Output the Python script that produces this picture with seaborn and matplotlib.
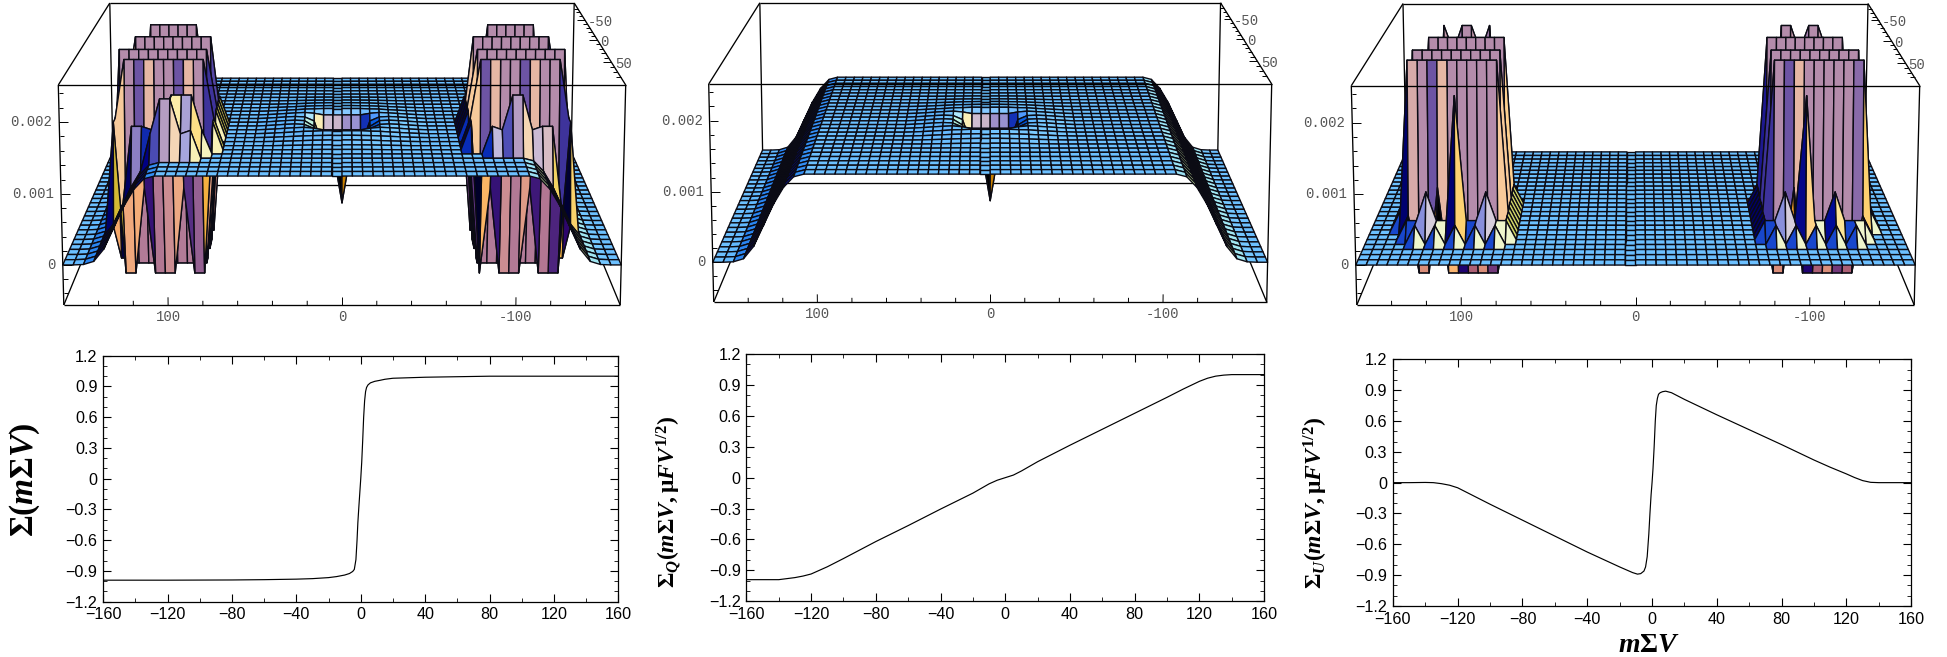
import numpy as np
import matplotlib
matplotlib.use("Agg")
import matplotlib.pyplot as plt
import seaborn as sns
from mpl_toolkits.mplot3d import Axes3D, proj3d  # noqa: F401
from mpl_toolkits.mplot3d.art3d import Line3DCollection

# ---------- curves read from the lower row ----------
sigma_x = [-160, -120, -80, -60, -40, -30, -20, -15, -10, -7, -5, -4, -3, -2.3, -1.8, -1.2, -0.6, 0,
           0.6, 1.2, 1.8, 2.4, 3, 3.6, 4.5, 6, 8.7, 12, 15, 20, 30, 40, 60, 80, 120, 160]
sigma_y = [-0.99, -0.99, -0.988, -0.985, -0.98, -0.975, -0.965, -0.955, -0.94, -0.925, -0.905, -0.885, -0.79,
           -0.6, -0.43, -0.28, -0.14, 0, 0.16, 0.37, 0.6, 0.76, 0.85, 0.89, 0.915, 0.935, 0.95, 0.96, 0.97,
           0.98, 0.985, 0.99, 0.995, 1.0, 1.0, 1.0]
q_x = [-160, -140, -135, -130, -125, -120, -110, -100, -80, -60, -40, -20, -10, -5, -2, 0, 2, 5, 10, 20, 40,
       60, 80, 100, 110, 120, 125, 130, 135, 140, 150, 160]
q_y = [-0.99, -0.99, -0.98, -0.97, -0.955, -0.935, -0.865, -0.785, -0.62, -0.465, -0.305, -0.15, -0.06, -0.025,
       -0.01, 0, 0.01, 0.025, 0.065, 0.155, 0.315, 0.47, 0.625, 0.78, 0.86, 0.935, 0.965, 0.985, 0.995, 1.0, 1.0, 1.0]
u_x = [-160, -150, -140, -135, -130, -125, -120, -110, -100, -80, -60, -40, -20, -12, -9, -7, -5, -4, -3, -2,
       -1.3, -0.6, 0, 0.6, 1.3, 2, 2.6, 3.3, 4, 5, 6.5, 8.4, 12, 20, 40, 60, 80, 100, 110, 120, 125, 130, 135, 140, 160]
u_y = [0, 0, 0.002, 0, -0.01, -0.025, -0.05, -0.13, -0.21, -0.365, -0.52, -0.675, -0.82, -0.875, -0.89, -0.885,
       -0.86, -0.82, -0.72, -0.5, -0.3, -0.12, 0, 0.14, 0.35, 0.6, 0.75, 0.82, 0.86, 0.875, 0.885, 0.89, 0.875,
       0.81, 0.66, 0.515, 0.37, 0.22, 0.15, 0.085, 0.05, 0.02, 0.003, 0, 0]

x_ticks = [-160, -120, -80, -40, 0, 40, 80, 120, 160]
x_tick_labels = ["\u2212160", "\u2212120", "\u221280", "\u221240", "0", "40", "80", "120", "160"]
y_ticks = [-1.2, -0.9, -0.6, -0.3, 0, 0.3, 0.6, 0.9, 1.2]
y_tick_labels = ["\u22121.2", "\u22120.9", "\u22120.6", "\u22120.3", "0", "0.3", "0.6", "0.9", "1.2"]

# ---------- surface tables read from the upper row ----------
z_min, z_max = -0.00057, 0.00251
plateau = 0.00125
y_half = 96.0
nx, ny = 55, 27
x_grid = np.linspace(160, -160, nx)
y_grid = np.linspace(-y_half, y_half, ny)
# height fraction of the mesa for columns 0..27 away from the centre
mesa_edge = [1] * 19 + [0.97, 0.85, 0.66, 0.42, 0.18, 0.04, 0.005, 0, 0]
# height fraction around the central pit: rows 0..7 from the centre, columns 0..9
pit = [[0.00, 0.68, 0.72, 0.95, 1.02, 1.025, 1.02, 1.012, 1.005, 1.0],
       [0.45, 0.55, 0.65, 0.97, 1.02, 1.025, 1.02, 1.012, 1.005, 1.0],
       [1.00, 1.00, 1.00, 1.02, 1.03, 1.025, 1.018, 1.01, 1.004, 1.0],
       [1.035, 1.035, 1.035, 1.03, 1.028, 1.02, 1.014, 1.008, 1.003, 1.0],
       [1.028, 1.028, 1.026, 1.024, 1.02, 1.015, 1.01, 1.005, 1.002, 1.0],
       [1.02, 1.02, 1.018, 1.016, 1.012, 1.008, 1.005, 1.002, 1.0, 1.0],
       [1.01, 1.01, 1.009, 1.008, 1.006, 1.004, 1.002, 1.0, 1.0, 1.0],
       [1.004, 1.004, 1.004, 1.003, 1.002, 1.001, 1.0, 1.0, 1.0, 1.0]]
levels = {"H": z_max, "L": z_min, "M": 0.0021, "m": 0.0016, "q": 0.0007, "n": 0.00028, "c": 0.00165}
# rows run j=22..7 (front to back), columns k=12..24 away from the centre
tower_a_left = ["...cmMMm.....", "..mMMMmmcc...", ".cLLqLLLqLLc.", ".cHHHHHHHHHc.", "..LLLLLLLLLc.",
                ".cLLLLLLLLLL.", ".cHHHHHHHHHH.", ".cLLLLLLLLLL.", ".cLLLLLLLLLL.", ".cLLLLLLLLLc.",
                "..HHHHHHHHHc.", "..LLLLLLLLL..", "..cLLLLLLLc..", "...LLLLLLL...", "....HHHHHH...", ".....cccc...."]
tower_a_right = [".............", "...cmMMmcc...", ".cLqLLLqLLLc.", ".cHHHHHHHHHc.", "..LLLLLLLLLc.",
                 ".cLLLLLLLLLL.", ".cHHHHHHHHHH.", ".cLLLLLLLLLL.", ".cLLLLLLLLLL.", ".cLLLLLLLLLc.",
                 "..HHHHHHHHHc.", "..LLLLLLLLL..", "..cLLLLLLLc..", "...LLLLLLL...", "....HHHHHH...", ".....cccc...."]
tower_c_left = ["..n.n.n.n.n..", ".nnqnnMnnqnn.", ".nLLLLLLqLLn.", ".nHHHHHHHHHHn", ".nLLLLLLLLLLn",
                ".nLLLLLLLLLL.", ".nHHHHHHHHHH.", ".nLLLLLLLLLL.", ".nLLLLLLLLLL.", ".nLLLLLLLLLn.",
                "..HHHHHHHHHn.", "..LLLLLLLLL..", "..nLLLLLLLn..", "...LLLLLLL...", "....HMHHMH...", ".....nnnn...."]
tower_c_right = ["..n.n.n.n.n..", ".nnqnMnnqnnn.", ".nLLqLLLLLLn.", ".nHHHHHHHHHHn", ".nLLLLLLLLLLn",
                 ".nLLLLLLLLLL.", ".nHHHHHHHHHH.", ".nLLLLLLLLLL.", ".nLLLLLLLLLL.", ".nLLLLLLLLLn.",
                 "..HHHHHHHHHn.", "..LLLLLLLLL..", "..nLLLLLLLn..", "...LLLLLLL...", "....HHMHHM...", ".....nnnn...."]
z_label_vals = [0, 0.001, 0.002]
z_labels = ["0", "0.001", "0.002"]
front_vals = [100, 0, -100]
front_labels = ["100", "0", "-100"]
side_vals = [-50, 0, 50]
side_labels = ["-50", "0", "50"]

# ---------- layout in pixels ----------
W, H = 1947, 657
cams = [(342.0, 278.2, 283.7, 228.5, 305.0, 85.0, 185.0),
        (990.2, 276.5, 281.5, 227.0, 302.0, 84.0, 183.0),
        (1635.5, 278.7, 284.2, 228.8, 305.0, 85.7, 185.0)]
boxes2d = [(103.1, 618.4, 355.7, 601.7), (746.4, 1264.2, 354.0, 601.3), (1392.9, 1911.2, 359.3, 606.0)]

sns.set_theme(style="ticks")
plt.rcParams["font.family"] = ["Liberation Sans", "DejaVu Sans"]
plt.rcParams.update({"mathtext.fontset": "custom", "mathtext.rm": "Liberation Serif:bold",
                     "mathtext.it": "Liberation Serif:italic:bold", "mathtext.bf": "Liberation Serif:bold"})
fig = plt.figure(figsize=(W / 100, H / 100), dpi=100, facecolor="white")


def build_surface(base_mesa, towers):
    Z = np.zeros((ny, nx))
    for j in range(ny):
        for i in range(nx):
            k = abs(i - 27)
            Z[j, i] = plateau * mesa_edge[k] if base_mesa else 0.0
            r = abs(j - 13)
            if base_mesa and r < len(pit) and k < len(pit[0]):
                Z[j, i] = plateau * pit[r][k]
    if towers is not None:
        for sign, mask in zip((1, -1), towers):
            for row, text in enumerate(mask):
                j = 22 - row
                for col, ch in enumerate(text):
                    if ch != ".":
                        Z[j, 27 - sign * (12 + col)] = levels[ch]
    return Z


def face_colors(Z):
    X, Y = np.meshgrid(x_grid, y_grid)
    P = np.dstack([X * 1.74, Y * 2.0, Z * 82400.0])
    d1 = P[1:, 1:] - P[:-1, :-1]
    d2 = P[1:, :-1] - P[:-1, 1:]
    n = np.cross(d1, d2)
    n /= np.linalg.norm(n, axis=2, keepdims=True) + 1e-12
    right = -n[..., 0]
    up = n[..., 2] * 0.87 - 0.1 * n[..., 1]
    toward = n[..., 2] * 0.5 + n[..., 1]
    v = np.dstack([right, up, toward])
    v /= np.linalg.norm(v, axis=2, keepdims=True) + 1e-12
    v *= np.where(v[..., 2:] < 0, -1.0, 1.0)
    lights = np.array([[1, 0, 1], [1, 1, 1], [0, 1, 1]], float)
    lights /= np.linalg.norm(lights, axis=1, keepdims=True)
    rgb = v @ lights.T
    lift = np.clip(v[..., 1], 0, 1)
    rgb[..., 0] += 0.08 * lift
    rgb[..., 1] -= 0.04 * lift
    rgb[..., 2] += 0.04 * lift
    rgb = np.clip(rgb, 0, 1)
    return np.dstack([rgb, np.ones(rgb.shape[:2])])


def camera(ax, cam):
    cx, bf, tf, back, v0, vt, vb = cam
    g = bf / tf - 1
    e = bf / back - 1
    q = vt * (1 + g) - v0
    p = vb * (1 + e) - v0
    inv = ax.transData.inverted()
    o = inv.transform((0, 0))
    s = inv.transform((W, H)) - o
    sx, sy = s[0] / W, s[1] / H
    T = np.array([[1 / 160, 0, 0, 0],
                  [0, -1 / (2 * y_half), 0, 0.5],
                  [0, 0, 1 / (z_max - z_min), -z_min / (z_max - z_min)],
                  [0, 0, 0, 1]])
    wrow = np.array([0, e, g, 1.0])
    urow = cx * wrow - np.array([bf, 0, 0, 0])
    vrow = H * wrow - np.array([0, p, q, v0])
    L = np.vstack([sx * urow + o[0] * wrow, sy * vrow + o[1] * wrow, np.array([0, e, g, 0.0]), wrow])
    return L @ T


def add_lines(ax, segs, lw, z):
    col = Line3DCollection(segs, colors="black", linewidths=lw, zorder=z)
    ax.add_collection3d(col, autolim=False)


def draw_surface(cam, Z):
    ax = fig.add_axes([0, 0, 1, 1], projection="3d", facecolor="none")
    ax.set_position([0, 0, 1, 1])
    ax.apply_aspect = lambda position=None: None
    ax.set_axis_off()
    ax.computed_zorder = False
    ax.set_xlim(-160, 160); ax.set_ylim(-y_half, y_half); ax.set_zlim(z_min, z_max)
    M = camera(ax, cam)
    ax.get_proj = lambda: M
    X, Y = np.meshgrid(x_grid, y_grid)
    ax.plot_surface(X, Y, Z, facecolors=face_colors(Z), rstride=1, cstride=1, shade=False,
                    edgecolor="#0b0b14", linewidth=1.0, antialiased=True, zorder=2)
    xa, xb, ya, yb = -160, 160, -y_half, y_half
    back = [[(xa, ya, z_min), (xb, ya, z_min)], [(xa, ya, z_max), (xb, ya, z_max)],
            [(xa, ya, z_min), (xa, ya, z_max)], [(xb, ya, z_min), (xb, ya, z_max)],
            [(xa, ya, z_min), (xa, yb, z_min)], [(xb, ya, z_min), (xb, yb, z_min)]]
    add_lines(ax, back, 0.95, 1)
    front = [[(xa, yb, z_min), (xb, yb, z_min)], [(xa, yb, z_max), (xb, yb, z_max)],
             [(xa, yb, z_min), (xa, yb, z_max)], [(xb, yb, z_min), (xb, yb, z_max)],
             [(xa, ya, z_max), (xa, yb, z_max)], [(xb, ya, z_max), (xb, yb, z_max)]]
    add_lines(ax, front, 0.95, 3)
    ticks = []
    for tv in range(-140, 141, 20):
        ln = 0.00011 if tv % 100 == 0 else 0.00006
        ticks.append([(tv, yb, z_min), (tv, yb, z_min + ln)])
    for tv in np.arange(-0.0004, 0.00241, 0.0002):
        ln = 5 if abs(tv / 0.001 - round(tv / 0.001)) < 0.01 else 2.5
        ticks.append([(160, yb, tv), (160 - ln, yb, tv)])
    for tv in range(-80, 81, 10):
        ln = 5 if tv % 50 == 0 else 2.5
        ticks.append([(-160, tv, z_max), (-160 + ln, tv, z_max)])
    add_lines(ax, ticks, 0.7, 3)
    lab = dict(family=["Liberation Mono", "DejaVu Sans Mono"], fontsize=10, color="#555555", zorder=4)

    def put(x, y, z, s, ha):
        px, py, _ = proj3d.proj_transform(x, y, z, M)
        ax.text2D(px, py, s, ha=ha, va="center", transform=ax.transData, **lab)

    for val, s in zip(z_label_vals, z_labels):
        put(164, y_half, val, s, "right")
    for val, s in zip(front_vals, front_labels):
        put(val, y_half, z_min - 0.00017, s, "center")
    for val, s in zip(side_vals, side_labels):
        put(-162, val, z_max - 0.00003, s, "left")


def draw_curve(box, xs, ys, ylabel, label_x, label_y, font):
    l, r, t, b = box
    ax = fig.add_axes([l / W, 1 - b / H, (r - l) / W, (b - t) / H])
    sns.lineplot(x=xs, y=ys, ax=ax, color="black", lw=0.85, errorbar=None, sort=False)
    ax.set_xlim(-160, 160)
    ax.set_ylim(-1.2, 1.2)
    ax.set_xticks(x_ticks, x_tick_labels, fontsize=11.6)
    ax.set_yticks(y_ticks, y_tick_labels, fontsize=11.6)
    ax.set_xticks(np.arange(-140, 141, 40), minor=True)
    ax.set_yticks(np.arange(-1.1, 1.11, 0.1), minor=True)
    ax.tick_params(which="major", direction="in", length=5.5, width=0.8, top=True, right=True, pad=4, colors="black")
    ax.tick_params(which="minor", direction="in", length=3, width=0.7, top=True, right=True)
    for sp in ax.spines.values():
        sp.set_linewidth(0.9)
        sp.set_color("black")
    ax.set_xlabel("")
    ax.set_ylabel("")
    fig.text(label_x / W, 1 - label_y / H, ylabel, rotation=90, ha="center", va="center",
             fontsize=font, color="black")


tower_sets = [(tower_a_left, tower_a_right), None, (tower_c_left, tower_c_right)]
mesa_flags = [True, True, False]
for cam, flag, towers in zip(cams, mesa_flags, tower_sets):
    draw_surface(cam, build_surface(flag, towers))

draw_curve(boxes2d[0], sigma_x, sigma_y, r"$\Sigma(m\Sigma V)$", 25, 480, 24)
draw_curve(boxes2d[1], q_x, q_y, r"$\Sigma_Q(m\Sigma V,\mathrm{\mu} FV^{1/2})$", 669, 502, 17)
draw_curve(boxes2d[2], u_x, u_y, r"$\Sigma_U(m\Sigma V,\mathrm{\mu} FV^{1/2})$", 1316, 503, 17)
fig.text(1649 / W, 1 - 645 / H, r"$m\Sigma V$", ha="center", va="center", fontsize=20, color="black")

fig.savefig("out.png", dpi=100)
